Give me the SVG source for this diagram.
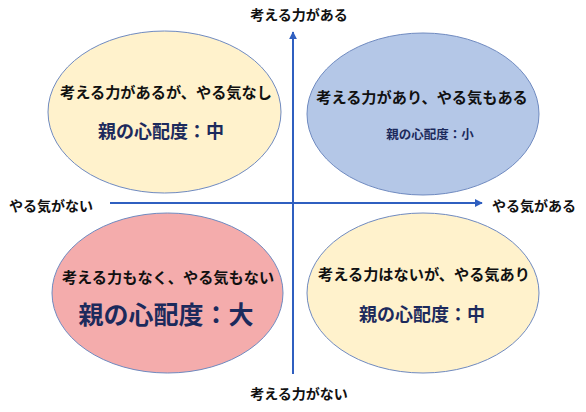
<svg xmlns="http://www.w3.org/2000/svg" width="586" height="412" viewBox="0 0 586 412">
<style>
text{font-family:"Noto Sans CJK JP","Noto Sans CJK SC",sans-serif;font-weight:bold;text-anchor:middle;dominant-baseline:central}
.t1{font-size:15.2px;fill:#111}
.t2{fill:#1c2a5c}
.lb{font-size:14px;fill:#111}
.el{stroke:#6f8ac0;stroke-width:1}
.ax{stroke:#2f5fc0;stroke-width:2;fill:none}
</style>
<defs>
<marker id="ah" viewBox="0 0 10 10" refX="9" refY="5" markerWidth="4" markerHeight="4" orient="auto" markerUnits="strokeWidth">
<path d="M0,0 L10,5 L0,10 z" fill="#2f5fc0"/>
</marker>
</defs>
<rect width="586" height="412" fill="#fff"/>
<g id="tl">
<ellipse class="el" cx="164.5" cy="112" rx="116.5" ry="81" fill="#fff2cc"/>
<text class="t1" x="166" y="91">考える力があるが、やる気なし</text>
<text class="t2" x="161" y="130" font-size="18">親の心配度：中</text>
</g>
<g id="tr">
<ellipse class="el" cx="423" cy="114" rx="116" ry="81" fill="#b4c7e7"/>
<text class="t1" x="422" y="96">考える力があり、やる気もある</text>
<text class="t2" x="430" y="133" font-size="12.5">親の心配度：小</text>
</g>
<g id="bl">
<ellipse class="el" cx="167.5" cy="293" rx="115.5" ry="80" fill="#f4acac"/>
<text class="t1" x="168" y="276">考える力もなく、やる気もない</text>
<text class="t2" x="166" y="313" font-size="25">親の心配度：大</text>
</g>
<g id="br">
<ellipse class="el" cx="423" cy="293" rx="116" ry="80" fill="#fff2cc"/>
<text class="t1" x="424" y="273">考える力はないが、やる気あり</text>
<text class="t2" x="422" y="313" font-size="18">親の心配度：中</text>
</g>
<g id="connectors">
<line class="ax" x1="293" y1="374" x2="293" y2="32" marker-end="url(#ah)"/>
<line class="ax" x1="110" y1="203" x2="482" y2="203" marker-end="url(#ah)"/>
</g>
<g id="labels">
<text class="lb" x="299" y="14">考える力がある</text>
<text class="lb" x="299" y="393">考える力がない</text>
<text class="lb" x="51" y="205">やる気がない</text>
<text class="lb" x="534" y="205">やる気がある</text>
</g>
</svg>
